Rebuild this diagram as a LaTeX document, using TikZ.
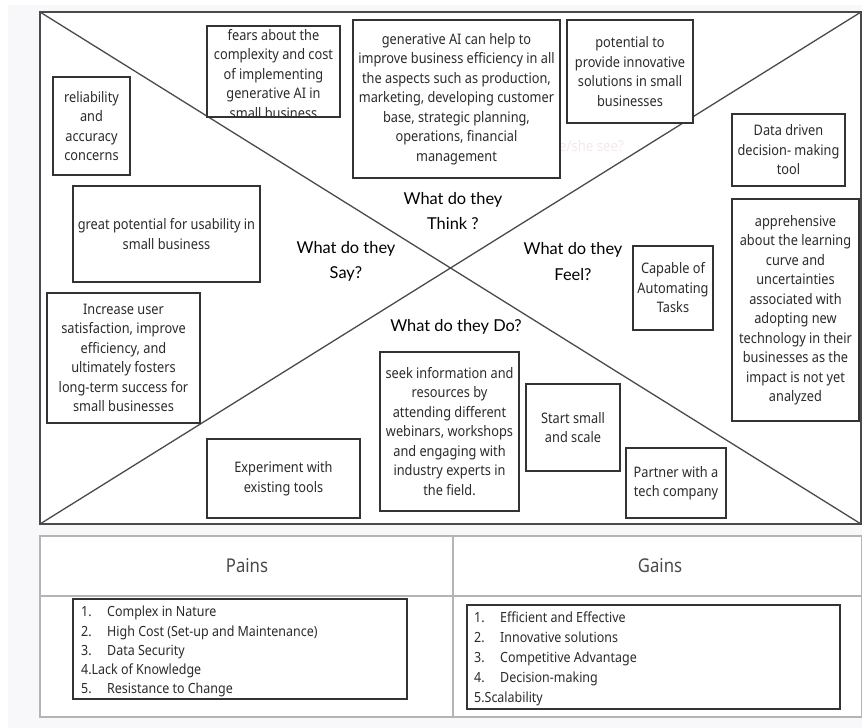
\documentclass[tikz,border=0pt]{standalone}
\usepackage{fontspec}
\setmainfont{Noto Sans}[FakeStretch=0.88]
\newfontfamily\listfont{Noto Sans}[FakeStretch=0.89]
\newfontfamily\labelfont{Lato}
\definecolor{boxc}{HTML}{333333}
\definecolor{txtc}{HTML}{2B2B2B}
\definecolor{framec}{HTML}{4A4A4A}
\definecolor{tabc}{HTML}{B4B4B4}
\definecolor{bgc}{HTML}{F8F8FA}
\definecolor{ghost}{HTML}{F4E9EA}
\definecolor{headc}{HTML}{4A4A4A}
\newcommand\bxfont{\fontsize{14.5}{19.5}\selectfont}
\newcommand\lbfont{\labelfont\fontsize{16.4}{25.5}\selectfont}
\newcommand\B[6]{\node[bx, minimum width={#4-#2}, minimum height={#5-#3}] (#1) at ({(#2+#4)/2},{(#3+#5)/2}) {#6};}
\begin{document}
\begin{tikzpicture}[x=1pt,y=-1pt,
  bx/.style={draw=boxc, line width=1.2pt, fill=white, align=center, inner sep=0pt, outer sep=0pt, font=\bxfont, text=txtc},
  lbl/.style={align=center, font=\lbfont, text=black, inner sep=0pt},
  diag/.style={draw=framec, line width=1.3pt},
  tab/.style={draw=tabc, line width=1.4pt},
  lbox/.style={draw=boxc, line width=1.2pt, fill=white, inner sep=0pt, outer sep=0pt, anchor=north west},
  li/.style={anchor=base west, inner sep=0pt, text=txtc, font=\listfont\fontsize{14}{19}\selectfont}]
\useasboundingbox (0,0) rectangle (862,728);
\fill[white] (0,0) rectangle (862,728);
\fill[bgc] (8,5) rectangle (862,728);
% main frame
\node[draw=framec, line width=2pt, fill=white, outer sep=0pt, inner sep=0pt, minimum width=821, minimum height=512, anchor=north west] (frame) at (40,12) {};
\draw[diag] (frame.north west) -- (frame.south east);
\draw[diag] (frame.south west) -- (frame.north east);
% ghost text
\node[text=ghost, font=\fontsize{15}{18}\selectfont, anchor=east, inner sep=0pt] (ghost) at (624,146) {does he/she see?};
% boxes
\B{b1}{207}{26}{340}{117}{}
\begin{scope}
\clip (b1.north west) rectangle (b1.south east);
\node[font=\bxfont, text=txtc, align=center, inner sep=0pt] (b1t) at (273.5,74) {fears about the\\complexity and cost\\of implementing\\generative AI in\\small business};
\end{scope}
\draw[draw=boxc, line width=1.2pt] (b1.north west) rectangle (b1.south east);
\B{b2}{353}{20}{560}{178}{generative AI can help to\\improve business efficiency in all\\the aspects such as production,\\marketing, developing customer\\base, strategic planning,\\operations, financial\\management}
\B{b3}{567}{20}{693}{123}{potential to\\provide innovative\\solutions in small\\businesses}
\B{b4}{53}{77}{130}{175}{reliability\\and\\accuracy\\concerns}
\B{b5}{73}{186}{260}{282}{great potential for usability in\\small business}
\B{b6}{732}{114}{845}{186}{Data driven\\decision- making\\tool}
\B{b7}{732}{199}{859}{421}{apprehensive\\about the learning\\curve and\\uncertainties\\associated with\\adopting new\\technology in their\\businesses as the\\impact is not yet\\analyzed}
\B{b8}{633}{246}{713}{330}{Capable of\\Automating\\Tasks}
\B{b9}{47}{293}{200}{423}{Increase user\\satisfaction, improve\\efficiency, and\\ultimately fosters\\long-term success for\\small businesses}
\B{b10}{380}{352}{519}{511}{seek information and\\resources by\\attending different\\webinars, workshops\\and engaging with\\industry experts in\\the field.}
\B{b11}{526}{384}{620}{471}{Start small\\and scale}
\B{b12}{207}{439}{360}{518}{Experiment with\\existing tools}
\B{b13}{626}{448}{726}{518}{Partner with a\\tech company}
% labels
\node[lbl] (think) at (453,211) {What do they\\Think ?};
\node[lbl] (say) at (346,261.5) {What do they\\Say?};
\node[lbl] (feel) at (573,261.5) {What do they\\Feel?};
\node[lbl] (do) at (456,327) {What do they Do?};
% table
\node[tab, fill=white, outer sep=0pt, inner sep=0pt, minimum width=822, minimum height=181, anchor=north west] (table) at (40,536) {};
\coordinate (hl) at (40,596);
\coordinate (hr) at (862,596);
\coordinate (vt) at (453,536);
\coordinate (vb) at (453,717);
\draw[tab] (hl) -- (hr);
\draw[tab] (vt) -- (vb);
\node[font=\fontsize{19}{22}\selectfont, text=headc] (pains) at (247,566) {Pains};
\node[font=\fontsize{19}{22}\selectfont, text=headc] (gains) at (660,566) {Gains};
% pains list
\node[lbox, minimum width=334, minimum height=100] (plist) at (73,599) {};
\node[li] (p1n) at (81,616) {1.};  \node[li] (p1) at (107,616) {Complex in Nature};
\node[li] (p2n) at (81,636) {2.};  \node[li] (p2) at (107,636) {High Cost (Set-up and Maintenance)};
\node[li] (p3n) at (81,655) {3.};  \node[li] (p3) at (107,655) {Data Security};
\node[li] (p4) at (81,674) {4.Lack of Knowledge};
\node[li] (p5n) at (81,693) {5.};  \node[li] (p5) at (107,693) {Resistance to Change};
% gains list
\node[lbox, minimum width=373, minimum height=104] (glist) at (467,605) {};
\node[li] (g1n) at (474,622) {1.};  \node[li] (g1) at (500,622) {Efficient and Effective};
\node[li] (g2n) at (474,642) {2.};  \node[li] (g2) at (500,642) {Innovative solutions};
\node[li] (g3n) at (474,662) {3.};  \node[li] (g3) at (500,662) {Competitive Advantage};
\node[li] (g4n) at (474,682) {4.};  \node[li] (g4) at (500,682) {Decision-making};
\node[li] (g5) at (474,702) {5.Scalability};
\end{tikzpicture}
\end{document}
